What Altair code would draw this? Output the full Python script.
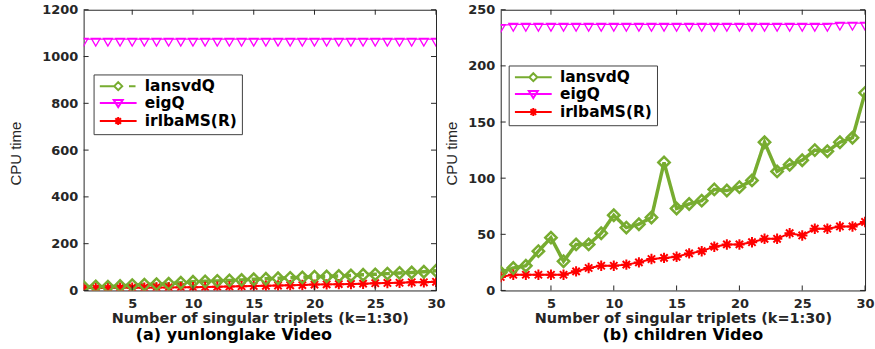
import altair as alt
import pandas as pd

k = list(range(1, 31))
methods = ["lansvdQ", "eigQ", "irlbaMS(R)"]
colors = ["#77AC30", "#FF00FF", "#FF0000"]

yun_lansvdQ = [15, 17, 16, 19, 23, 25, 27, 29, 33, 37, 39, 41, 43, 45, 48, 50, 52, 54, 56, 59, 60, 62, 64, 67, 69, 72, 75, 77, 80, 84]
yun_eigQ = [1074, 1074, 1074, 1074, 1074, 1074, 1074, 1074, 1074, 1074, 1074, 1074, 1074, 1074, 1074,
            1074, 1074, 1074, 1074, 1074, 1074, 1074, 1074, 1074, 1074, 1074, 1074, 1074, 1074, 1074]
yun_irlba = [11, 11, 11, 12, 12, 12, 13, 13, 14, 14, 15, 16, 17, 18, 19, 20, 21, 22, 23, 25, 26, 27, 28, 29, 31, 32, 33, 35, 35, 37]

chi_lansvdQ = [16, 20, 22, 35, 47, 26, 41, 41, 51, 67, 56, 59, 65, 114, 73, 77, 80, 90, 89, 92, 98, 132, 106, 112, 116, 125, 124, 132, 136, 176]
chi_eigQ = [236, 237, 237, 237, 237, 237, 237, 237, 237, 237, 237, 237, 237, 237, 237,
            237, 237, 237, 237, 237, 237, 237, 237, 237, 237, 237, 237, 238, 238, 238]
chi_irlba = [12, 14, 14, 14, 14, 14, 17, 20, 22, 22, 23, 25, 28, 29, 30, 33, 35, 39, 41, 41, 43, 46, 46, 51, 49, 55, 55, 57, 57, 61]

xticks = [5, 10, 15, 20, 25, 30]
yun_yticks = [0, 200, 400, 600, 800, 1000, 1200]
chi_yticks = [0, 50, 100, 150, 200, 250]

W1, W2, H = 354, 366, 282
TXT = "#262626"
FONT = "DejaVu Sans"

ASTER = "M-1,0L1,0M0,-1L0,1M-0.7,-0.7L0.7,0.7M-0.7,0.7L0.7,-0.7"

LEG_L_SOLID = "M-3.08,0L-0.67,0M0.67,0L3.08,0M0,-0.67L0.67,0L0,0.67L-0.67,0Z"
LEG_L_DASH = "M-3.08,0L-0.67,0M1.8,0L2.9,0M0,-0.67L0.67,0L0,0.67L-0.67,0Z"
LEG_E = "M-3.08,0L3.08,0M-0.75,-0.5L0.75,-0.5L0,0.67Z"
LEG_I = "M-3.08,0L3.08,0M-0.67,0L0.67,0M0,-0.67L0,0.67M-0.47,-0.47L0.47,0.47M-0.47,0.47L0.47,-0.47"


def panel(lans, eig, irl, W, ymax, yticks, subtitle, sub_dx, dashed, lx, ly, title_x):
    df = pd.DataFrame({
        "k": k * 3,
        "method": ["lansvdQ"] * 30 + ["eigQ"] * 30 + ["irlbaMS(R)"] * 30,
        "v": lans + eig + irl,
    })
    xs = alt.Scale(domain=[1, 30], nice=False, zero=False)
    ys = alt.Scale(domain=[0, ymax], nice=False)
    leg_l = LEG_L_DASH if dashed else LEG_L_SOLID
    base = alt.Chart(df)
    X = alt.X("k:Q", scale=xs, axis=alt.Axis(
        values=xticks, format="d", title="Number of singular triplets (k=1:30)", domain=False,
        ticks=False, grid=False, labelFont=FONT, labelFontWeight="bold", labelFontSize=13,
        labelColor=TXT, labelPadding=7, titleFont=FONT, titleFontWeight="bold", titleFontSize=14.5,
        titleColor=TXT, titlePadding=1, labelFlush=False))
    Y = alt.Y("v:Q", scale=ys, axis=alt.Axis(
        values=yticks, format="d", title="CPU time", domain=False, ticks=False, grid=False,
        labelFont=FONT, labelFontWeight="bold", labelFontSize=13, labelColor=TXT,
        labelPadding=6, titleFont="Liberation Sans", titleFontWeight="normal",
        titleFontSize=15, titleColor=TXT, titleAngle=270, titleX=title_x, titleY=144,
        titleAlign="center", titleBaseline="middle"))

    line_l = base.transform_filter(alt.datum.method == "lansvdQ").mark_line(
        color=colors[0], strokeWidth=3.5, strokeDash=[9, 4] if dashed else [1, 0], clip=True
    ).encode(x=X, y=Y)
    line_e = base.transform_filter(alt.datum.method == "eigQ").mark_line(
        color=colors[1], strokeWidth=1.3, clip=True).encode(x=alt.X("k:Q", scale=xs), y=alt.Y("v:Q", scale=ys))
    line_i = base.transform_filter(alt.datum.method == "irlbaMS(R)").mark_line(
        color=colors[2], strokeWidth=2, clip=True).encode(x=alt.X("k:Q", scale=xs), y=alt.Y("v:Q", scale=ys))

    pl = base.transform_filter(alt.datum.method == "lansvdQ").mark_point(
        shape="diamond", size=130, filled=False, strokeWidth=2.5, color=colors[0], opacity=1, clip=True
    ).encode(x=alt.X("k:Q", scale=xs), y=alt.Y("v:Q", scale=ys))
    pe = base.transform_filter(alt.datum.method == "eigQ").mark_point(
        shape="triangle-down", size=80, filled=False, strokeWidth=1.3, color=colors[1], opacity=1,
        yOffset=3, clip=True
    ).encode(x=alt.X("k:Q", scale=xs), y=alt.Y("v:Q", scale=ys))
    pi = base.transform_filter(alt.datum.method == "irlbaMS(R)").mark_point(
        shape=ASTER, size=110, filled=False, strokeWidth=2, color=colors[2], opacity=1, clip=True
    ).encode(x=alt.X("k:Q", scale=xs), y=alt.Y("v:Q", scale=ys))

    leg = alt.Legend(
        orient="none", legendX=lx, legendY=ly, title=None, labelFont=FONT,
        labelFontWeight="bold", labelFontSize=15.5, labelColor="#000", symbolSize=144,
        symbolStrokeWidth=2, fillColor="white", strokeColor="#404040", padding=4,
        rowPadding=0, labelOffset=19, symbolOffset=13)
    legend_layer = base.transform_filter("false").mark_point(filled=False, opacity=1).encode(
        x=alt.X("k:Q", scale=xs), y=alt.Y("v:Q", scale=ys),
        color=alt.Color("method:N", scale=alt.Scale(domain=methods, range=colors), legend=leg),
        shape=alt.Shape("method:N", scale=alt.Scale(domain=methods, range=[leg_l, LEG_E, LEG_I]), legend=leg),
    )

    ydf = pd.DataFrame({"t": yticks})
    xdf = pd.DataFrame({"t": xticks})
    tick_y_l = alt.Chart(ydf).mark_rule(color=TXT, strokeWidth=1).encode(
        y=alt.Y("t:Q", scale=ys), x=alt.value(0), x2=alt.value(5))
    tick_y_r = alt.Chart(ydf).mark_rule(color=TXT, strokeWidth=1).encode(
        y=alt.Y("t:Q", scale=ys), x=alt.value(W - 5), x2=alt.value(W))
    tick_x_b = alt.Chart(xdf).mark_rule(color=TXT, strokeWidth=1).encode(
        x=alt.X("t:Q", scale=xs), y=alt.value(H - 5), y2=alt.value(H))
    tick_x_t = alt.Chart(xdf).mark_rule(color=TXT, strokeWidth=1).encode(
        x=alt.X("t:Q", scale=xs), y=alt.value(0), y2=alt.value(5))

    return alt.layer(line_l, line_e, line_i, pe, pi, pl, legend_layer,
                     tick_y_l, tick_y_r, tick_x_b, tick_x_t).properties(
        width=W, height=H,
        title=alt.TitleParams(text=subtitle, orient="bottom", anchor="middle", dx=sub_dx, offset=2,
                              font=FONT, fontSize=16, fontWeight="bold", color="#000"),
    )


left = panel(yun_lansvdQ, yun_eigQ, yun_irlba, W1, 1200, yun_yticks, "(a)  yunlonglake Video",
             -26, True, 10, 65, -68)
right = panel(chi_lansvdQ, chi_eigQ, chi_irlba, W2, 250, chi_yticks, "(b)  children Video",
              0, False, 8, 56, -49)

chart = alt.hconcat(left, right, spacing=65, bounds="flush").resolve_scale(
    x="independent", y="independent", color="independent", shape="independent"
).resolve_legend(color="independent", shape="independent").properties(
    padding={"left": 8, "top": 2, "right": 0, "bottom": 0},
    background="white",
).configure_view(stroke=TXT, strokeWidth=1)

chart.save("out.html", embed_options={"renderer": "svg", "actions": False})
